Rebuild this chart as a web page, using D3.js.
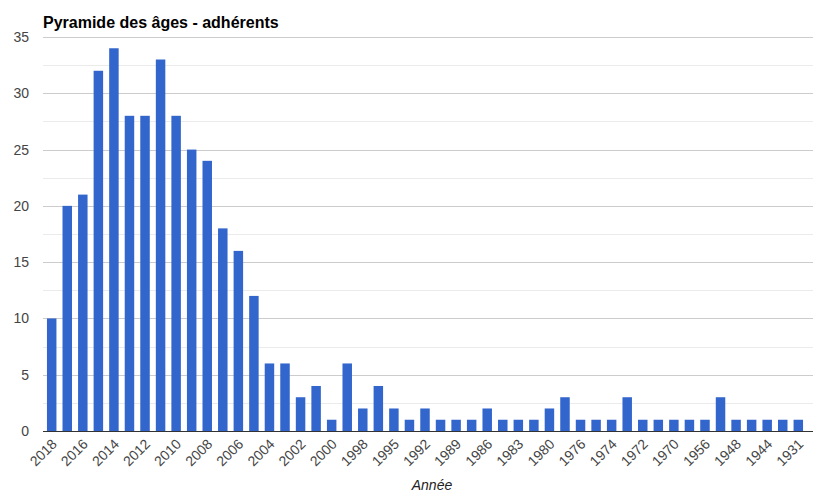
<!DOCTYPE html>
<html>
<head>
<meta charset="utf-8">
<script src="https://cdn.jsdelivr.net/npm/d3@7"></script>
<style>
  body { margin: 0; background: #fff; }
  svg { display: block; font-family: Arial, "Liberation Sans", sans-serif; }
</style>
</head>
<body>
<svg id="chart" width="814" height="495"></svg>
<script>
// Years (shown labels are every other one; hidden ones are estimated)
const years = [
  '2018', '2017', '2016', '2015', '2014', '2013', '2012', '2011', '2010', '2009',
  '2008', '2007', '2006', '2005', '2004', '2003', '2002', '2001', '2000', '1999',
  '1998', '1997', '1995', '1994', '1992', '1990', '1989', '1987', '1986', '1984',
  '1983', '1981', '1980', '1978', '1976', '1975', '1974', '1973', '1972', '1971',
  '1970', '1963', '1956', '1950', '1948', '1946', '1944', '1940', '1931'
];

// Number of members per birth year
const members = [
  10, 20, 21, 32, 34, 28, 28, 33, 28, 25,
  24, 18, 16, 12, 6, 6, 3, 4, 1, 6,
  2, 4, 2, 1, 2, 1, 1, 1, 2, 1,
  1, 1, 2, 3, 1, 1, 1, 3, 1, 1,
  1, 1, 1, 3, 1, 1, 1, 1, 1
];

const yTicks = [0, 5, 10, 15, 20, 25, 30, 35];
const yMinorTicks = [2.5, 7.5, 12.5, 17.5, 22.5, 27.5, 32.5];

const title = 'Pyramide des âges - adhérents';
const xTitle = 'Année';

// ---------------------------------------------------------------------
// Layout
// ---------------------------------------------------------------------
const svg = d3.select('#chart');
const plotLeft = 43, plotRight = 813, plotTop = 37, plotBottom = 431;

const x = d3.scaleBand()
    .domain(years)
    .range([plotLeft + 1, plotRight - 7])
    .paddingInner(0.39)
    .paddingOuter(0.19);

const y = d3.scaleLinear()
    .domain([0, 35])
    .range([plotBottom, plotTop]);

// Gridlines
svg.append('g')
  .selectAll('line')
  .data(yMinorTicks)
  .join('line')
    .attr('x1', plotLeft).attr('x2', plotRight)
    .attr('y1', d => Math.round(y(d)) + 0.5)
    .attr('y2', d => Math.round(y(d)) + 0.5)
    .attr('stroke', '#ebebeb');

svg.append('g')
  .selectAll('line')
  .data(yTicks.filter(d => d > 0))
  .join('line')
    .attr('x1', plotLeft).attr('x2', plotRight)
    .attr('y1', d => Math.round(y(d)) + 0.5)
    .attr('y2', d => Math.round(y(d)) + 0.5)
    .attr('stroke', '#cccccc');

// Y axis labels
const yAxis = d3.axisLeft(y).tickValues(yTicks).tickSize(0).tickPadding(0);
svg.append('g')
    .attr('transform', `translate(${plotLeft - 14},0)`)
    .call(yAxis)
    .call(g => g.select('.domain').remove())
    .selectAll('text')
      .attr('font-size', 14)
      .attr('fill', '#444')
      .attr('font-family', 'Arial, "Liberation Sans", sans-serif');

// Bars
svg.append('g')
  .selectAll('rect')
  .data(members)
  .join('rect')
    .attr('x', (d, i) => x(years[i]))
    .attr('y', d => y(d))
    .attr('width', x.bandwidth())
    .attr('height', d => y(0) - y(d))
    .attr('fill', '#3366cc');

// Baseline
svg.append('line')
    .attr('x1', plotLeft).attr('x2', plotRight)
    .attr('y1', plotBottom + 0.5).attr('y2', plotBottom + 0.5)
    .attr('stroke', '#333');

// X axis labels (every other year)
const xAxis = d3.axisBottom(x)
    .tickValues(years.filter((d, i) => i % 2 === 0))
    .tickSize(0)
    .tickPadding(0);

svg.append('g')
    .attr('transform', `translate(0,${plotBottom})`)
    .call(xAxis)
    .call(g => g.select('.domain').remove())
    .selectAll('text')
      .attr('font-size', 14)
      .attr('fill', '#444')
      .attr('font-family', 'Arial, "Liberation Sans", sans-serif')
      .attr('text-anchor', 'end')
      .attr('dy', 0)
      .attr('y', 0)
      .attr('transform', 'translate(6,14) rotate(-45)');

// Titles
svg.append('text')
    .attr('x', plotLeft)
    .attr('y', 28)
    .attr('font-size', 16)
    .attr('font-weight', 'bold')
    .attr('fill', '#000')
    .text(title);

svg.append('text')
    .attr('x', 432)
    .attr('y', 490)
    .attr('text-anchor', 'middle')
    .attr('font-size', 14)
    .attr('font-style', 'italic')
    .attr('fill', '#222')
    .text(xTitle);
</script>
</body>
</html>
